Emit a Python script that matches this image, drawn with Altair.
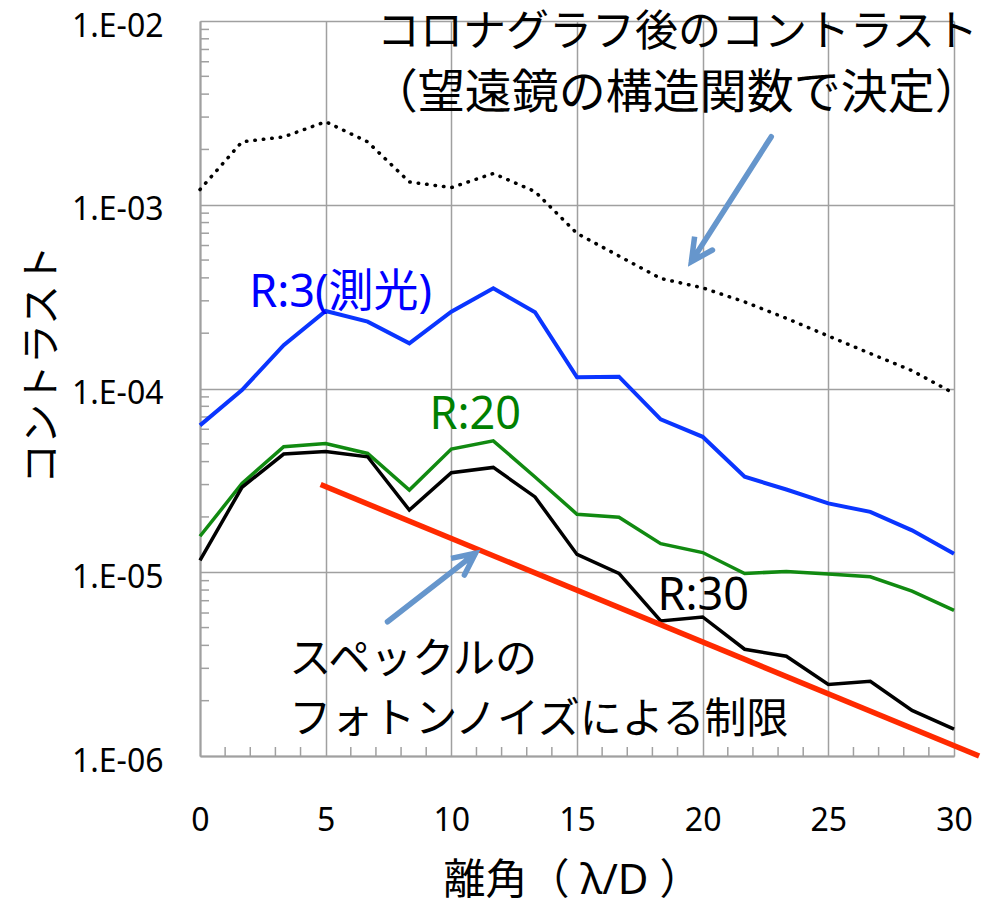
import altair as alt
import pandas as pd

# Angular separation (λ/D) of the sampled points
sep = [0, 1.67, 3.33, 5, 6.67, 8.33, 10, 11.67, 13.33, 15,
       16.67, 18.33, 20, 21.67, 23.33, 25, 26.67, 28.33, 30]

# Contrast after the coronagraph (set by the telescope structure function)
coronagraph = [1.21e-3, 2.20e-3, 2.34e-3, 2.83e-3, 2.20e-3, 1.33e-3, 1.24e-3,
               1.48e-3, 1.18e-3, 6.98e-4, 5.26e-4, 3.97e-4, 3.53e-4, 2.96e-4,
               2.41e-4, 1.93e-4, 1.55e-4, 1.25e-4, 9.4e-5]

# Spectral resolution R = 3 (photometry), 20 and 30
r3 = [6.3e-5, 9.8e-5, 1.72e-4, 2.64e-4, 2.31e-4, 1.76e-4, 2.62e-4, 3.51e-4,
      2.60e-4, 1.15e-4, 1.16e-4, 6.8e-5, 5.46e-5, 3.31e-5, 2.82e-5, 2.37e-5,
      2.13e-5, 1.69e-5, 1.26e-5]
r20 = [1.57e-5, 3.04e-5, 4.82e-5, 5.02e-5, 4.43e-5, 2.80e-5, 4.68e-5, 5.19e-5,
       3.3e-5, 2.07e-5, 1.99e-5, 1.43e-5, 1.28e-5, 9.85e-6, 1.01e-5, 9.77e-6,
       9.45e-6, 7.9e-6, 6.2e-6]
r30 = [1.16e-5, 2.90e-5, 4.40e-5, 4.54e-5, 4.25e-5, 2.18e-5, 3.48e-5, 3.72e-5,
       2.57e-5, 1.25e-5, 9.85e-6, 5.43e-6, 5.71e-6, 3.81e-6, 3.49e-6, 2.45e-6,
       2.55e-6, 1.77e-6, 1.40e-6]

# Speckle photon-noise limit (straight line on the log axis)
limit_x = [4.8, 31.0]
limit_v = [3.0e-5, 1.0e-6]

# Annotation arrows: shaft start, tip, barb, tip, barb (drawn in this order)
arrow1_x = [22.73, 19.55, 19.68, 19.55, 20.39]
arrow1_v = [2.346e-3, 4.90e-4, 6.70e-4, 4.90e-4, 5.67e-4]
arrow2_x = [7.46, 10.96, 9.99, 10.96, 10.52]
arrow2_v = [5.38e-6, 1.268e-5, 1.19e-5, 1.268e-5, 9.66e-6]

x_ticks = [0, 5, 10, 15, 20, 25, 30]
y_ticks = [1e-6, 1e-5, 1e-4, 1e-3, 1e-2]
x_minor = [i for i in range(1, 30) if i % 5 != 0]
y_minor = [k * 10.0 ** d for d in range(-6, -2) for k in range(2, 10)]

FONT = "Noto Sans, Noto Sans CJK JP"
GRID = "#a0a0a0"
W, H = 754, 735

X = alt.X(
    "x:Q",
    scale=alt.Scale(domain=[0, 30], nice=False, zero=False),
    axis=alt.Axis(
        values=x_ticks, title="離角（ λ/D ）", grid=True, gridColor=GRID,
        gridWidth=1.5, domainColor=GRID, domainWidth=2, ticks=False, tickSize=0,
        labelFlush=False, labelFont=FONT, labelFontSize=32, labelColor="black",
        labelBaseline="middle", labelPadding=64,
        titleFont=FONT, titleFontSize=42, titleFontWeight="normal",
        titleColor="black", titleBaseline="middle", titleY=124, titleX=372,
    ),
)
Y = alt.Y(
    "v:Q",
    scale=alt.Scale(type="log", domain=[1e-6, 1e-2], nice=False),
    axis=alt.Axis(
        values=y_ticks, title="コントラスト", grid=True, gridColor=GRID,
        gridWidth=1.5, domainColor=GRID, domainWidth=2, ticks=False, tickSize=0,
        labelExpr="'1.E-0' + round(-log(datum.value) / LN10)",
        labelFlush=False, labelFont=FONT, labelFontSize=32, labelColor="black",
        labelBaseline="middle", labelPadding=37, labelOffset=5,
        titleFont=FONT, titleFontSize=40, titleFontWeight="normal",
        titleColor="black", titleAngle=-90, titleBaseline="middle",
        titleX=-158, titleY=343,
    ),
)


def series(values, xs=sep):
    return pd.DataFrame({"x": xs, "v": values, "i": list(range(len(xs)))})


def line(values, color, width, xs=sep, dash=None, cap="butt"):
    kw = dict(color=color, strokeWidth=width, strokeCap=cap, strokeJoin="miter")
    if dash:
        kw["strokeDash"] = dash
    return alt.Chart(series(values, xs)).mark_line(**kw).encode(
        x=X, y=Y, order=alt.Order("i:Q")
    )


def label(text, x, v, color, size, align="left"):
    df = pd.DataFrame({"x": [x], "v": [v], "t": [text]})
    return alt.Chart(df).mark_text(
        font=FONT, fontSize=size, color=color, align=align, baseline="middle"
    ).encode(x=X, y=Y, text="t:N")


# Inward-pointing minor ticks on both axes
xminor = alt.Chart(pd.DataFrame({"x": x_minor})).mark_rule(
    color=GRID, strokeWidth=1.5
).encode(x=X, y=alt.value(H), y2=alt.value(H - 9))
yminor = alt.Chart(pd.DataFrame({"v": y_minor})).mark_rule(
    color=GRID, strokeWidth=1.5
).encode(y=Y, x=alt.value(0), x2=alt.value(9))

ARROW = "#6696cc"

chart = alt.layer(
    xminor,
    yminor,
    line(coronagraph, "black", 3.5, dash=[0.5, 8], cap="round"),
    line(r3, "#0a35ff", 4),
    line(r20, "#118a11", 3.5),
    line(r30, "black", 3.5),
    line(limit_v, "#ff2a00", 5.5, xs=limit_x),
    line(arrow1_v, ARROW, 5.5, xs=arrow1_x, cap="round"),
    line(arrow2_v, ARROW, 5.5, xs=arrow2_x, cap="round"),
    label("コロナグラフ後のコントラスト", 19.0, 8.6e-3, "black", 43, "center"),
    label("（望遠鏡の構造関数で決定）", 18.95, 4.0e-3, "black", 47, "center"),
    label("R:3(測光)", 1.96, 3.31e-4, "#0000ff", 45),
    label("R:20", 9.13, 7.18e-5, "#008000", 45),
    label("R:30", 18.2, 7.43e-6, "black", 45),
    label("スペックルの", 3.55, 3.33e-6, "black", 42),
    label("フォトンノイズによる制限", 3.55, 1.57e-6, "black", 42),
).properties(
    width=W,
    height=H,
    autosize=alt.AutoSizeParams(type="none"),
    padding={"left": 200, "top": 21, "right": 35, "bottom": 151},
    background="white",
).configure_view(stroke=None)

chart.save("out.html", embed_options={"renderer": "svg", "actions": False})
